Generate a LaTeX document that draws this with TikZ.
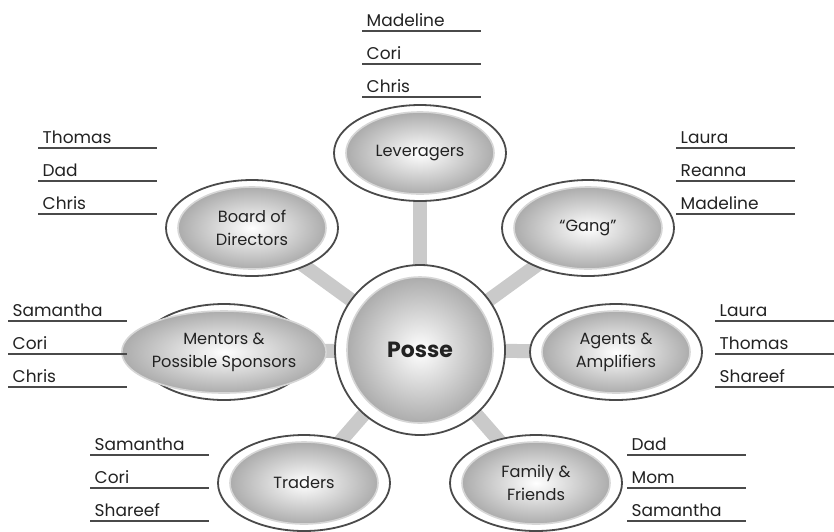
\documentclass[tikz,border=0pt]{standalone}
\usepackage{fontspec}
\setmainfont{Poppins}
\usetikzlibrary{shapes.geometric}
\pgfdeclarelayer{background}
\pgfsetlayers{background,main}
\definecolor{ringc}{HTML}{4A4A4A}
\definecolor{spokec}{HTML}{CACACA}
\definecolor{rimc}{HTML}{D6D6D6}
\definecolor{edgec}{HTML}{ACACAC}
\definecolor{txtc}{HTML}{222222}
\tikzset{
  outerell/.style={ellipse, draw=ringc, line width=1.8pt, fill=white, minimum width=172pt, minimum height=96pt, inner sep=0pt},
  innerell/.style={ellipse, draw=rimc, line width=1.6pt, shading=radial, inner color=white, outer color=edgec, minimum width=148pt, minimum height=82pt, inner sep=0pt, align=center, text=txtc, font=\fontsize{16.2}{23}\selectfont},
  outercirc/.style={circle, draw=ringc, line width=1.8pt, fill=white, minimum size=170pt, inner sep=0pt},
  innercirc/.style={circle, draw=rimc, line width=1.6pt, shading=radial, inner color=white, outer color=edgec, minimum size=146pt, inner sep=0pt, text=txtc, font=\fontsize{22}{26}\selectfont\bfseries},
  spoke/.style={spokec, line width=14pt},
  nm/.style={anchor=south west, minimum width=119pt, text width=110pt, inner xsep=4.5pt, inner ysep=0pt, text height=12pt, text depth=4pt, align=left, text=txtc, font=\fontsize{17}{20}\selectfont},
  uline/.style={ringc, line width=1.2pt}
}
\begin{document}
\begin{tikzpicture}[x=1pt,y=-1pt]
\useasboundingbox (0,0) rectangle (834,531);
% central
\node[outercirc] (posseo) at (420,350) {};
\node[innercirc] (posse) at (420,350) {Posse};
% satellites
\node[outerell] (levo) at (420,153) {};
\node[innerell] (lev) at (420,153) {Leveragers};
\node[outerell] (gango) at (588,228) {};
\node[innerell] (gang) at (588,228) {``Gang''};
\node[outerell] (boardo) at (252,228) {};
\node[innerell] (board) at (252,228) {Board of\\Directors};
\node[outerell] (agento) at (616,352) {};
\node[innerell] (agent) at (616,352) {Agents \&\\Amplifiers};
\node[outerell] (mento) at (224,352) {};
\node[innerell] (ment) at (224,352) {Mentors \&\\Possible Sponsors};
\node[outerell] (tradeo) at (304,483) {};
\node[innerell] (trade) at (304,483) {Traders};
\node[outerell] (famo) at (536,483) {};
\node[innerell] (fam) at (536,483) {Family \&\\Friends};
% spokes
\begin{pgfonlayer}{background}
\foreach \s in {levo,gango,boardo,agento,mento,tradeo,famo}
  \draw[spoke] (posseo.center) -- (\s.center);
\end{pgfonlayer}
% name lists
\foreach \t [count=\i] in {Madeline,Cori,Chris}{
  \node[nm] (top\i) at (362,{31+33*(\i-1)}) {\t};
  \draw[uline] (top\i.south west) -- (top\i.south east);}
\foreach \t [count=\i] in {Laura,Reanna,Madeline}{
  \node[nm] (gn\i) at (676,{148+33*(\i-1)}) {\t};
  \draw[uline] (gn\i.south west) -- (gn\i.south east);}
\foreach \t [count=\i] in {Thomas,Dad,Chris}{
  \node[nm] (bd\i) at (38,{148+33*(\i-1)}) {\t};
  \draw[uline] (bd\i.south west) -- (bd\i.south east);}
\foreach \t [count=\i] in {Samantha,Cori,Chris}{
  \node[nm] (mn\i) at (8,{321+33*(\i-1)}) {\t};
  \draw[uline] (mn\i.south west) -- (mn\i.south east);}
\foreach \t [count=\i] in {Laura,Thomas,Shareef}{
  \node[nm] (ag\i) at (715,{321+33*(\i-1)}) {\t};
  \draw[uline] (ag\i.south west) -- (ag\i.south east);}
\foreach \t [count=\i] in {Samantha,Cori,Shareef}{
  \node[nm] (tr\i) at (90,{455+33*(\i-1)}) {\t};
  \draw[uline] (tr\i.south west) -- (tr\i.south east);}
\foreach \t [count=\i] in {Dad,Mom,Samantha}{
  \node[nm] (fm\i) at (627,{455+33*(\i-1)}) {\t};
  \draw[uline] (fm\i.south west) -- (fm\i.south east);}
\end{tikzpicture}
\end{document}
